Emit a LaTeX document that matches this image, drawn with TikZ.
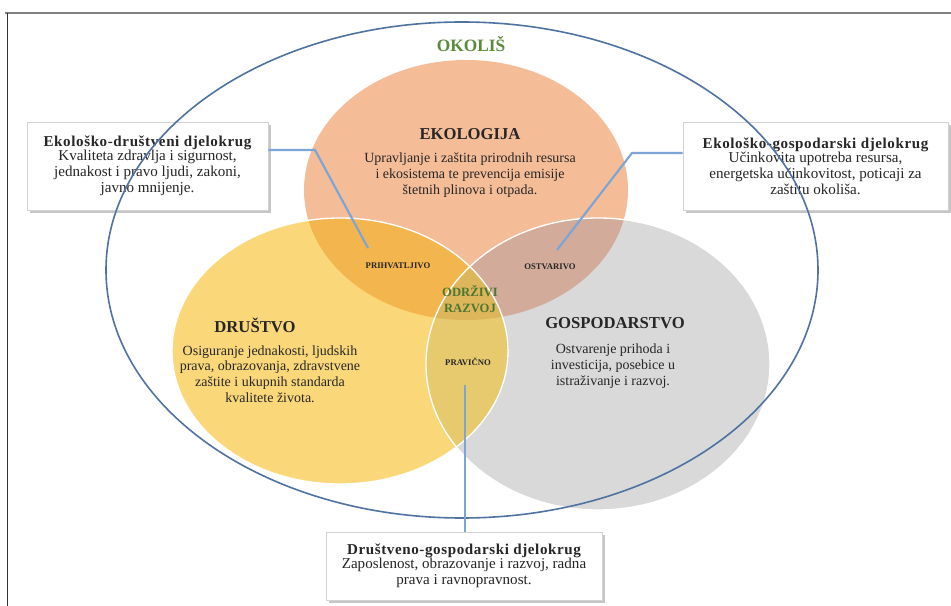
\documentclass[tikz,border=0pt]{standalone}
\usepackage{fontspec}
\setmainfont{Liberation Serif}
\newfontfamily\spacedbf[LetterSpace=4]{Liberation Serif}
\usetikzlibrary{shadows}
\definecolor{cOr}{HTML}{F5BC98}
\definecolor{cYe}{HTML}{FAD87A}
\definecolor{cGr}{HTML}{D9D9D9}
\definecolor{cOrYe}{HTML}{F3B64E}
\definecolor{cOrGr}{HTML}{D2AB9A}
\definecolor{cGrYe}{HTML}{E7CA6E}
\definecolor{cAll}{HTML}{DDB65C}
\definecolor{cTxt}{HTML}{262626}
\definecolor{cGreen}{HTML}{5B8B3A}
\definecolor{cRing}{HTML}{4F72A0}
\definecolor{cConn}{HTML}{7AA5D6}
\tikzset{
  infobox/.style={draw=gray!35, fill=white, line width=0.4pt, align=center, text=cTxt,
    inner sep=2pt, drop shadow={shadow xshift=2pt, shadow yshift=-2pt, opacity=0.45, fill=gray}},
  conn/.style={draw=cConn, line width=1.6pt},
  ttl/.style={font=\bfseries\fontsize{12.5}{14}\selectfont, text=cTxt},
  desc/.style={font=\fontsize{10.5}{11.8}\selectfont, text=cTxt, align=center},
  small/.style={font=\bfseries\fontsize{6.5}{8}\selectfont, text=cTxt},
}
\begin{document}
\begin{tikzpicture}[x=0.75pt,y=-0.75pt]
\fill[white] (0,0) rectangle (951,606);
\useasboundingbox (0,0) rectangle (951,606);
% frame
\draw[gray, line width=1.5pt] (5,13) -- (951,13);
\draw[black!80, line width=0.6pt] (7,13) -- (7,606);
% circles
\def\eko{(466,190) ellipse [x radius=162, y radius=130]}
\def\dru{(340,351) ellipse [x radius=168, y radius=133]}
\def\gos{(598,364) ellipse [x radius=172, y radius=146]}
\fill[cOr] \eko;
\fill[cGr] \gos;
\fill[cYe] \dru;
\begin{scope}\clip \eko; \fill[cOrGr] \gos; \end{scope}
\begin{scope}\clip \eko; \fill[cOrYe] \dru; \end{scope}
\begin{scope}\clip \gos; \fill[cGrYe] \dru; \end{scope}
\begin{scope}\clip \eko; \clip \gos; \fill[cAll] \dru; \end{scope}
\draw[white, line width=1pt] \gos;
\draw[white, line width=1pt] \dru;
% circle texts
\node[ttl] (ekot) at (470,134) {EKOLOGIJA};
\node[desc] (ekod) at (470,175) {Upravljanje i zaštita prirodnih resursa\\i ekosistema te prevencija emisije\\štetnih plinova i otpada.};
\node[ttl] (drut) at (255,325) {DRUŠTVO};
\node[desc] (drud) at (270,374) {Osiguranje jednakosti, ljudskih\\prava, obrazovanja, zdravstvene\\zaštite i ukupnih standarda\\kvalitete života.};
\node[ttl] (gost) at (615,323) {GOSPODARSTVO};
\node[desc] (gosd) at (613,366) {Ostvarenje prihoda i\\investicija, posebice u\\istraživanje i razvoj.};
\node[small] (prih) at (398,266) {PRIHVATLJIVO};
\node[small] (ostv) at (550,267) {OSTVARIVO};
\node[small] (prav) at (468,362) {PRAVIČNO};
\node[font=\bfseries\fontsize{9.5}{11.5}\selectfont, text=cGreen!85!black, align=center] (odr) at (470,299) {ODRŽIVI\\RAZVOJ};
\node[font=\bfseries\fontsize{13}{15}\selectfont, text=cGreen] (okolis) at (471,44) {OKOLIŠ};
% boxes
\node[infobox, minimum width=180.75pt, minimum height=66pt] (lb) at (147.5,166)
  {{\spacedbf\bfseries\fontsize{11.3}{13.5}\selectfont Ekološko-društveni djelokrug}\\[-1.5pt]
   {\fontsize{11.3}{13.5}\selectfont Kvaliteta zdravlja i sigurnost,}\\
   {\fontsize{11.3}{13.5}\selectfont jednakost i pravo ljudi, zakoni,}\\
   {\fontsize{11.3}{13.5}\selectfont javno mnijenje.}};
\node[infobox, minimum width=198.75pt, minimum height=66pt] (rb) at (815.5,166)
  {{\spacedbf\bfseries\fontsize{11.3}{13.5}\selectfont Ekološko-gospodarski djelokrug}\\[-1.5pt]
   {\fontsize{11.3}{13.5}\selectfont Učinkovita upotreba resursa,}\\
   {\fontsize{11.3}{13.5}\selectfont energetska učinkovitost, poticaji za}\\
   {\fontsize{11.3}{13.5}\selectfont zaštitu okoliša.}};
\node[infobox, minimum width=207pt, minimum height=51pt] (bb) at (464,566)
  {{\spacedbf\bfseries\fontsize{11.3}{13.5}\selectfont Društveno-gospodarski djelokrug}\\[-1.5pt]
   {\fontsize{11.3}{13.5}\selectfont Zaposlenost, obrazovanje i razvoj, radna}\\
   {\fontsize{11.3}{13.5}\selectfont prava i ravnopravnost.}};
% outer ellipse
\draw[cRing, line width=1.2pt] (462,270) ellipse [x radius=356, y radius=248];
% connectors
\coordinate (lk) at (315,150);
\coordinate (lend) at (368,248);
\coordinate (rk) at (632,153);
\coordinate (rend) at (557,250);
\coordinate (bend) at (465,385);
\draw[conn] (lk -| lb.east) -- (lk) -- (lend);
\draw[conn] (rk -| rb.west) -- (rk) -- (rend);
\draw[conn] (bend) -- (bend |- bb.north);
\end{tikzpicture}
\end{document}
